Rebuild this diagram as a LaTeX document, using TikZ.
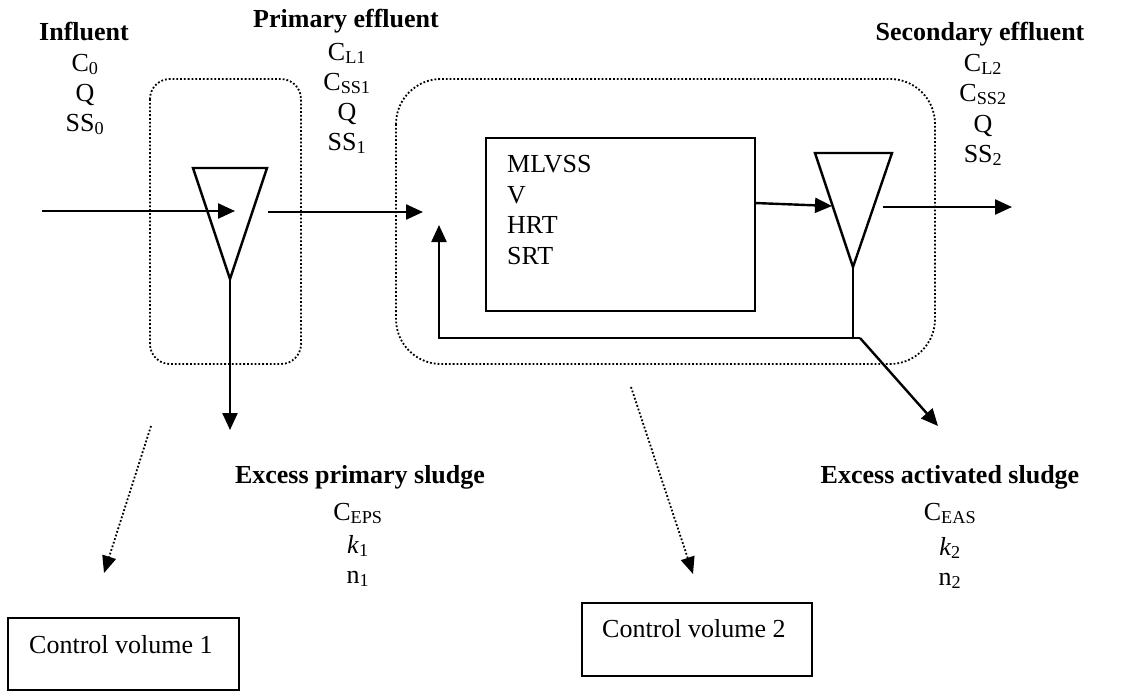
\documentclass[tikz,border=0pt]{standalone}
\usepackage{fontspec}
\setmainfont{Liberation Serif}
\usetikzlibrary{arrows.meta}
\begin{document}
\begin{tikzpicture}[x=1pt,y=-1pt,
  lbl/.style={inner sep=0pt, anchor=base, font=\fontsize{26}{30}\selectfont},
  hd/.style={inner sep=0pt, anchor=base, font=\fontsize{26}{30}\selectfont\bfseries},
  lftlbl/.style={inner sep=0pt, anchor=base west, font=\fontsize{26}{30}\selectfont},
  solidline/.style={line width=2.4pt},
  flow/.style={line width=2.4pt, -{Triangle[length=17pt,width=15pt]}},
  dotline/.style={line width=1.8pt, dash pattern=on 1.8pt off 2pt},
  dotflow/.style={dotline, -{Triangle[length=17pt,width=14pt]}},
  boxline/.style={draw, line width=2.2pt}]
\useasboundingbox (0,0) rectangle (1121,691);

% control volume outlines
\draw[dotline, rounded corners=20pt] (150,79) rectangle (301,364);
\draw[dotline, rounded corners=45pt] (396,79) rectangle (935,364);

% clarifiers
\coordinate (t1a) at (193,168);
\coordinate (t1b) at (267,168);
\coordinate (t1c) at (230,279);
\draw[solidline] (t1a) -- (t1b) -- (t1c) -- cycle;
\coordinate (t2a) at (815,153);
\coordinate (t2b) at (892,153);
\coordinate (t2c) at (853,267);
\draw[solidline] (t2a) -- (t2b) -- (t2c) -- cycle;

% reactor
\draw[boxline] (486,138) rectangle (755,311);
\node[lftlbl] (mlvss) at (507,172) {MLVSS};
\node[lftlbl] (vol) at (507,203) {V};
\node[lftlbl] (hrt) at (507,233) {HRT};
\node[lftlbl] (srt) at (507,264) {SRT};

% flows
\coordinate (inA) at (42,211);
\coordinate (inB) at (235,211);
\draw[flow] (inA) -- (inB);
\coordinate (peA) at (268,212);
\coordinate (peB) at (423,212);
\draw[flow] (peA) -- (peB);
\coordinate (rOut) at (755,203);
\coordinate (c2in) at (832,206);
\draw[flow] (rOut) -- (c2in);
\coordinate (seA) at (883,207);
\coordinate (seB) at (1012,207);
\draw[flow] (seA) -- (seB);
\coordinate (s1end) at (230,430);
\draw[flow] (t1c) -- (s1end);
\coordinate (t2foot) at (853,338);
\draw[solidline] (t2c) -- (t2foot);
\coordinate (split) at (860,338);
\coordinate (rc1) at (439,338);
\coordinate (rc2) at (439,225);
\draw[flow] (split) -- (rc1) -- (rc2);
\coordinate (wasEnd) at (938,426);
\draw[flow] (split) -- (wasEnd);

% dotted pointers to control volume labels
\coordinate (d1a) at (151,426);
\coordinate (d1b) at (104,573);
\draw[dotflow] (d1a) -- (d1b);
\coordinate (d2a) at (631,387);
\coordinate (d2b) at (693,574);
\draw[dotflow] (d2a) -- (d2b);

% control volume boxes
\draw[boxline] (8,618) rectangle (239,690);
\node[lftlbl] (cv1) at (29,653) {Control volume 1};
\draw[boxline] (582,603) rectangle (812,676);
\node[lftlbl] (cv2) at (602,637) {Control volume 2};

% influent
\node[hd] (infl) at (84,40) {Influent};
\node[lbl] (c0) at (85,71) {C\textsubscript{0}};
\node[lbl] (q0) at (85,101) {Q};
\node[lbl] (ss0) at (85,131) {SS\textsubscript{0}};

% primary effluent
\node[hd] (peff) at (346,27) {Primary effluent};
\node[lbl] (cl1) at (347,60) {C\textsubscript{L1}};
\node[lbl] (css1) at (347,90) {C\textsubscript{SS1}};
\node[lbl] (q1) at (347,120) {Q};
\node[lbl] (ss1) at (347,150) {SS\textsubscript{1}};

% secondary effluent
\node[hd] (seff) at (980,40) {Secondary effluent};
\node[lbl] (cl2) at (983,71) {C\textsubscript{L2}};
\node[lbl] (css2) at (983,101) {C\textsubscript{SS2}};
\node[lbl] (q2) at (983,132) {Q};
\node[lbl] (ss2) at (983,162) {SS\textsubscript{2}};

% excess primary sludge
\node[hd] (eps) at (360,483) {Excess primary sludge};
\node[lbl] (ceps) at (358,520) {C\textsubscript{EPS}};
\node[lbl] (k1) at (358,553) {\textit{k}\textsubscript{1}};
\node[lbl] (n1) at (358,583) {n\textsubscript{1}};

% excess activated sludge
\node[hd] (eas) at (950,483) {Excess activated sludge};
\node[lbl] (ceas) at (950,520) {C\textsubscript{EAS}};
\node[lbl] (k2) at (950,555) {\textit{k}\textsubscript{2}};
\node[lbl] (n2) at (950,585) {n\textsubscript{2}};
\end{tikzpicture}
\end{document}
